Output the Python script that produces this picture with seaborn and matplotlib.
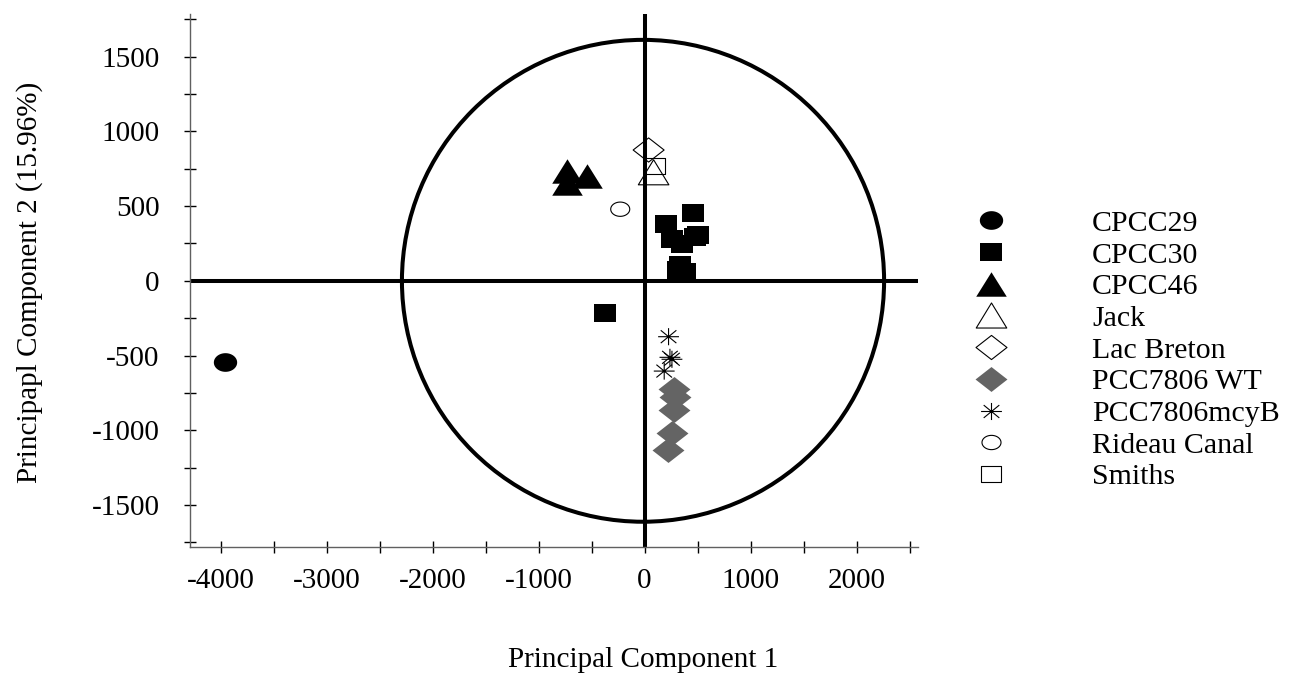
import numpy as np
import pandas as pd
import matplotlib
matplotlib.use("Agg")
import matplotlib.pyplot as plt
from matplotlib.path import Path
from matplotlib.patches import Ellipse
from matplotlib.lines import Line2D
import seaborn as sns

# PCA scores (PC1, PC2) for each strain / site
groups = ["CPCC29", "CPCC30", "CPCC46", "Jack", "Lac Breton",
          "PCC7806 WT", "PCC7806mcyB", "Rideau Canal", "Smiths"]

cpcc29_pc1 = [-3960]
cpcc29_pc2 = [-546]
cpcc30_pc1 = [458, 204, 500, 255, 355, 477, 333, 311, 380, -377]
cpcc30_pc2 = [456, 382, 307, 280, 246, 291, 104, 72, 61, -218]
cpcc46_pc1 = [-730, -541, -730]
cpcc46_pc2 = [733, 699, 655]
jack_pc1 = [85]
jack_pc2 = [726]
lacbreton_pc1 = [38]
lacbreton_pc2 = [875]
wt_pc1 = [280, 285, 280, 261, 217]
wt_pc2 = [-726, -776, -865, -1021, -1133]
mcyb_pc1 = [226, 239, 258, 185]
mcyb_pc2 = [-374, -512, -525, -604]
rideau_pc1 = [-230]
rideau_pc2 = [479]
smiths_pc1 = [100]
smiths_pc2 = [766]

x_ticks = [-4000, -3000, -2000, -1000, 0, 1000, 2000]
y_ticks = [-1500, -1000, -500, 0, 500, 1000, 1500]

scores = {
    "CPCC29": (cpcc29_pc1, cpcc29_pc2),
    "CPCC30": (cpcc30_pc1, cpcc30_pc2),
    "CPCC46": (cpcc46_pc1, cpcc46_pc2),
    "Jack": (jack_pc1, jack_pc2),
    "Lac Breton": (lacbreton_pc1, lacbreton_pc2),
    "PCC7806 WT": (wt_pc1, wt_pc2),
    "PCC7806mcyB": (mcyb_pc1, mcyb_pc2),
    "Rideau Canal": (rideau_pc1, rideau_pc2),
    "Smiths": (smiths_pc1, smiths_pc2),
}
df = pd.concat(
    [pd.DataFrame({"group": g, "pc1": scores[g][0], "pc2": scores[g][1]}) for g in groups],
    ignore_index=True,
)


# Slightly wide marker shapes
def ellipse_path(ratio):
    t = np.linspace(0, 2 * np.pi, 65)
    v = np.column_stack([np.cos(t), ratio * np.sin(t)])
    return Path(v, closed=True)


def rect_path(ratio):
    v = [(-1, -ratio), (1, -ratio), (1, ratio), (-1, ratio), (-1, -ratio)]
    return Path(v, closed=True)


def tri_path(ratio):
    v = [(0, ratio), (-1, -ratio), (1, -ratio), (0, ratio)]
    return Path(v, closed=True)


def diamond_path(ratio):
    v = [(0, ratio), (-1, 0), (0, -ratio), (1, 0), (0, ratio)]
    return Path(v, closed=True)


def asterisk_path(ratio):
    d = 0.75
    v = [(-1, 0), (1, 0), (0, -ratio), (0, ratio),
         (-d, -d * ratio), (d, d * ratio), (-d, d * ratio), (d, -d * ratio)]
    codes = [Path.MOVETO, Path.LINETO] * 4
    return Path(v, codes)


grey = "#646464"
styles = {
    # marker path, width (pt), face, edge, edge width
    "CPCC29": (ellipse_path(0.8), 16.8, "black", "black", 0.0),
    "CPCC30": (rect_path(0.78), 16.0, "black", "black", 0.0),
    "CPCC46": (tri_path(0.8), 22.0, "black", "black", 0.0),
    "Jack": (tri_path(0.82), 22.0, "none", "black", 0.8),
    "Lac Breton": (diamond_path(0.78), 22.3, "none", "black", 0.8),
    "PCC7806 WT": (diamond_path(0.78), 23.0, grey, grey, 0.0),
    "PCC7806mcyB": (asterisk_path(0.82), 15.0, "none", "black", 0.8),
    "Rideau Canal": (ellipse_path(0.75), 13.7, "none", "black", 0.8),
    "Smiths": (rect_path(0.82), 14.0, "none", "black", 0.8),
}

sns.set_style("white")
plt.rcParams["font.family"] = ["Liberation Serif", "DejaVu Serif"]
plt.rcParams["axes.unicode_minus"] = False
plt.rcParams["text.color"] = "black"
plt.rcParams["xtick.color"] = "black"
plt.rcParams["ytick.color"] = "black"
plt.rcParams["axes.labelcolor"] = "black"

FS = 21

fig = plt.figure(figsize=(12.95, 6.79), dpi=100)
ax = fig.add_axes([190 / 1295, 1 - 547.3 / 679, (918 - 190) / 1295, (547.3 - 14.3) / 679])

# Reference circle and the zero axes
ax.add_patch(Ellipse((-15, 0), 2 * 2275, 2 * 1612, fill=False, lw=2.9,
                     edgecolor="black", zorder=1))
ax.axhline(0, color="black", lw=2.9, zorder=1)
ax.axvline(0, color="black", lw=2.9, zorder=1)

for g in groups:
    path, size, fc, ec, lw = styles[g]
    sub = df[df["group"] == g]
    sns.scatterplot(data=sub, x="pc1", y="pc2", ax=ax, marker=path, s=size ** 2,
                    facecolor=fc, edgecolor=ec, linewidth=lw, zorder=3, legend=False)

ax.set_xlim(-4290, 2580)
ax.set_ylim(-1783, 1783)

ax.set_xticks(x_ticks)
ax.set_xticklabels([str(v) for v in x_ticks])
ax.set_xticks(np.arange(-3500, 2600, 1000), minor=True)
ax.set_yticks(y_ticks)
ax.set_yticklabels([str(v) for v in y_ticks])
ax.set_yticks(np.arange(-1750, 1800, 500), minor=True)

for which in ("major", "minor"):
    ax.tick_params(axis="both", which=which, direction="inout", length=8,
                   width=1.0, color="black", labelcolor="black",
                   bottom=True, left=True)
ax.tick_params(axis="both", which="major", labelsize=FS)
ax.tick_params(axis="x", which="major", pad=11)
ax.tick_params(axis="y", which="major", pad=18)

for side in ("top", "right"):
    ax.spines[side].set_visible(False)
for side in ("left", "bottom"):
    ax.spines[side].set_color("#606060")
    ax.spines[side].set_linewidth(1.0)

ax.set_xlabel("")
ax.set_ylabel("")
fig.text(643 / 1295, 1 - 660 / 679, "Principal Component 1", ha="center",
         va="center", fontsize=FS, color="black")
fig.text(30 / 1295, 1 - 282 / 679, "Principapl Component 2 (15.96%)", ha="center",
         va="center", rotation=90, fontsize=FS, color="black")

handles = []
for g in groups:
    path, size, fc, ec, lw = styles[g]
    handles.append(Line2D([], [], linestyle="none", marker=path, markersize=size,
                          markerfacecolor=fc, markeredgecolor=ec,
                          markeredgewidth=lw if lw > 0 else 0.0))
LFS = 21.5
em = LFS / 72 * 100
leg = fig.legend(handles, groups, loc="upper left",
                 bbox_to_anchor=((991 - em) / 1295, 1 - 210 / 679), frameon=False,
                 fontsize=LFS, handlelength=2.0, handletextpad=(101 - em) / em,
                 labelspacing=0.16, borderpad=0, borderaxespad=0)
for t in leg.get_texts():
    t.set_color("black")

fig.savefig("out.png", dpi=100)
